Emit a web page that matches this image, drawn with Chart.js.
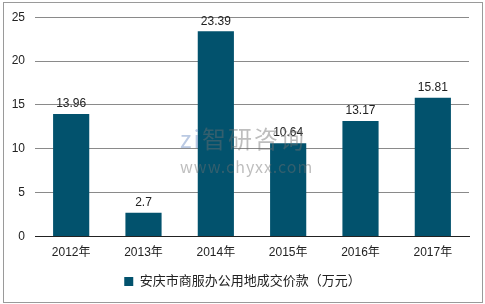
<!DOCTYPE HTML>
<html>
  <head>
    <meta charset="UTF-8"/>
    <title>安庆市商服办公用地成交价款</title>
    <script src="https://cdn.jsdelivr.net/npm/chart.js@4/dist/chart.umd.min.js"></script>
    <style>
     html, body { margin: 0; padding: 0; background: #fff; }
     #wrap { position: absolute; left: 0; top: 0; width: 485px; height: 304px; }
     #frame {
       position: absolute; left: 3px; top: 2px; width: 478px; height: 299px;
       border: 1px solid #9a9a9a; pointer-events: none;
     }
     .wm { position: absolute; pointer-events: none; white-space: nowrap;
           font-family: "Noto Sans CJK SC", "Liberation Sans", sans-serif; }
     #wm1 { left: 180px; top: 120px; font-size: 24px; color: rgba(110,110,110,0.45); letter-spacing: 2px; }
     #wm2 { left: 180px; top: 154px; font-size: 16px; color: rgba(110,110,110,0.45); letter-spacing: 1px; }
    </style>
  </head>
  <body>
    <div id="wrap">
      <canvas id="chart" width="485" height="304"></canvas>
    </div>
    <div class="wm" id="wm1"><span style="color:rgba(120,150,200,0.5)">zi</span>智研咨询</div>
    <div class="wm" id="wm2">www.chyxx.com</div>
    <div id="frame"></div>

    <script>
     var years = ["2012年", "2013年", "2014年", "2015年", "2016年", "2017年"];
     var values = [13.96, 2.7, 23.39, 10.64, 13.17, 15.81];
     var seriesName = "安庆市商服办公用地成交价款（万元）";
     var yTicks = [0, 5, 10, 15, 20, 25];

     var barColor = "#02526D";
     var fontFamily = "'Liberation Sans', 'Noto Sans CJK SC', sans-serif";

     // draw the value above each bar
     var valueLabels = {
         id: "valueLabels",
         afterDatasetsDraw: function(chart){
             var ctx = chart.ctx;
             var meta = chart.getDatasetMeta(0);
             ctx.save();
             ctx.font = "12px " + fontFamily;
             ctx.fillStyle = "#222";
             ctx.textAlign = "center";
             ctx.textBaseline = "bottom";
             meta.data.forEach(function(bar, i){
                 ctx.fillText(String(values[i]), bar.x, bar.y - 4);
             });
             ctx.restore();
         }
     };

     // nudge the legend a little to the right, like the original
     var legendShift = {
         id: "legendShift",
         afterUpdate: function(chart){
             var lg = chart.legend;
             if (!lg) return;
             lg.left += 8;
             lg.right += 8;
             lg.adjustHitBoxes();
         }
     };

     new Chart("chart", {
         type: "bar",
         data: {
             labels: years,
             datasets: [{
                 label: seriesName,
                 data: values,
                 backgroundColor: barColor,
                 borderWidth: 0,
                 categoryPercentage: 1.0,
                 barPercentage: 0.5
             }]
         },
         options: {
             responsive: false,
             animation: false,
             layout: { padding: { left: 0, right: 16, top: 12, bottom: 6 } },
             plugins: {
                 tooltip: { enabled: false },
                 legend: {
                     position: "bottom",
                     labels: {
                         boxWidth: 9, boxHeight: 9,
                         color: "#222",
                         padding: 10,
                         font: { size: 13, family: fontFamily }
                     }
                 }
             },
             scales: {
                 x: {
                     grid: { display: false, drawTicks: false },
                     border: { display: true, color: "#222", width: 1 },
                     ticks: { color: "#222", padding: 9, font: { size: 12, family: fontFamily } },
                     afterFit: function(scale){ scale.height = 28.5; }
                 },
                 y: {
                     min: 0, max: 25,
                     afterBuildTicks: function(scale){
                         scale.ticks = yTicks.map(function(v){ return { value: v }; });
                     },
                     grid: { color: "#8a8a8a", drawTicks: false, lineWidth: 1 },
                     border: { display: false },
                     ticks: { color: "#222", padding: 10, font: { size: 12, family: fontFamily } },
                     afterFit: function(scale){ scale.width = 35; }
                 }
             }
         },
         plugins: [valueLabels, legendShift]
     });
    </script>
  </body>
</html>
